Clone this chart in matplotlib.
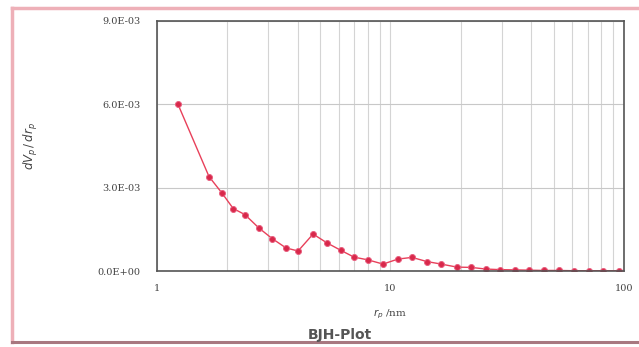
import numpy as np
import matplotlib
matplotlib.use("Agg")
import matplotlib.pyplot as plt
from matplotlib.ticker import FixedLocator, FuncFormatter, LogLocator, NullFormatter

# pore radius (nm) and dVp/drp from the BJH desorption branch
r_p = [1.23, 1.67, 1.90, 2.12, 2.38, 2.73, 3.11, 3.57, 4.02, 4.66,
       5.35, 6.14, 6.98, 8.01, 9.29, 10.77, 12.36, 14.33, 16.46, 19.27,
       22.12, 25.64, 29.44, 34.14, 39.2, 45.3, 52.7, 61.1, 70.8, 81.3, 95.2]
dv_dr = [6.0e-3, 3.40e-3, 2.80e-3, 2.25e-3, 2.03e-3, 1.55e-3, 1.17e-3, 0.83e-3, 0.72e-3, 1.33e-3,
         1.01e-3, 0.74e-3, 0.50e-3, 0.40e-3, 0.25e-3, 0.43e-3, 0.49e-3, 0.34e-3, 0.25e-3, 0.14e-3,
         0.13e-3, 0.07e-3, 0.05e-3, 0.04e-3, 0.03e-3, 0.02e-3, 0.02e-3, 0.01e-3, 0.01e-3, 0.01e-3, 0.01e-3]
y_ticks = [0.0, 3.0e-3, 6.0e-3, 9.0e-3]

fig = plt.figure(figsize=(6.39, 3.47), dpi=100)
fig.patch.set_facecolor("white")

# pink frame: left and top edges, darker rule along the bottom
frame = dict(transform=fig.transFigure, color="#eeb0b8", linewidth=2.5)
fig.lines.append(plt.Line2D([0.019, 0.019], [0.015, 0.978], **frame))
fig.lines.append(plt.Line2D([0.019, 1.0], [0.978, 0.978], **frame))
fig.lines.append(plt.Line2D([0.019, 1.0], [0.015, 0.015], transform=fig.transFigure,
                            color="#a87880", linewidth=2.2))

ax = fig.add_axes([0.2457, 0.219, 0.7308, 0.7205])
ax.set_xscale("log")
ax.set_xlim(1, 100)
ax.set_ylim(0, 9.0e-3)

ax.plot(r_p, dv_dr, color="#e8405a", linewidth=1.0, marker="o", markersize=4.3,
        markerfacecolor="#d8284a", markeredgecolor="#e86080", markeredgewidth=0.7)

ax.yaxis.set_major_locator(FixedLocator(y_ticks))
ax.yaxis.set_major_formatter(FuncFormatter(lambda v, p: f"{v:.1E}"))
ax.xaxis.set_major_locator(LogLocator(base=10))
ax.xaxis.set_major_formatter(FuncFormatter(lambda v, p: f"{v:g}"))
ax.xaxis.set_minor_locator(LogLocator(base=10, subs=np.arange(2, 10)))
ax.xaxis.set_minor_formatter(NullFormatter())

ax.grid(True, which="major", axis="y", color="#c8c8c8", linewidth=0.8)
ax.grid(True, which="both", axis="x", color="#d4d4d4", linewidth=0.8)
ax.set_axisbelow(True)

for side in ax.spines.values():
    side.set_color("#555555")
    side.set_linewidth(1.2)

ax.tick_params(axis="both", which="both", length=0, labelsize=7, labelcolor="#444444")
ax.tick_params(axis="y", pad=12)
ax.tick_params(axis="x", pad=9)
for lab in ax.get_xticklabels() + ax.get_yticklabels():
    lab.set_family("serif")

ax.set_xlabel(r"$r_p$ /nm", fontsize=7.5, family="serif", color="#444444", labelpad=11)
ax.set_ylabel(r"$dV_p\,/\,dr_p$", fontsize=8.5, family="serif", color="#444444")
ax.yaxis.set_label_coords(-0.25, 0.5)

fig.text(0.532, 0.035, "BJH-Plot", ha="center", va="center", fontsize=10,
         fontweight="bold", color="#555555", family="DejaVu Sans")

fig.savefig("out.png", dpi=100)
